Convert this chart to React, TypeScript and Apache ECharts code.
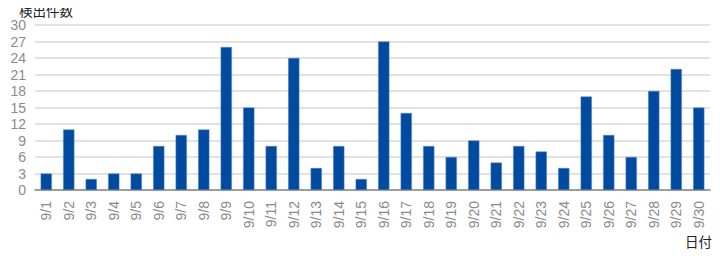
import React, { useEffect, useRef } from "react";
import * as echarts from "echarts";

const categories = [
  "9/1","9/2","9/3","9/4","9/5","9/6","9/7","9/8","9/9","9/10",
  "9/11","9/12","9/13","9/14","9/15","9/16","9/17","9/18","9/19","9/20",
  "9/21","9/22","9/23","9/24","9/25","9/26","9/27","9/28","9/29","9/30",
];
const counts = [
  3, 11, 2, 3, 3, 8, 10, 11, 26, 15,
  8, 24, 4, 8, 2, 27, 14, 8, 6, 9,
  5, 8, 7, 4, 17, 10, 6, 18, 22, 15,
];
const yAxisTitle = "検出件数";
const xAxisTitle = "日付";

const FONT = "'Liberation Sans', 'Noto Sans CJK JP', sans-serif";

export default function App() {
  const ref = useRef<HTMLDivElement>(null);
  useEffect(() => {
    if (!ref.current) return;
    const chart = echarts.init(ref.current, undefined, { renderer: "svg" });
    chart.setOption({
      animation: false,
      grid: { left: 35, right: 10, top: 25, bottom: 70, containLabel: false },
      graphic: [
        {
          type: "text",
          left: 19,
          top: 3,
          style: { text: yAxisTitle, fontSize: 13.5, fill: "#222", fontFamily: "'Noto Sans CJK JP', sans-serif" },
        },
        {
          type: "text",
          right: 8,
          top: 234,
          style: { text: xAxisTitle, fontSize: 13.5, fill: "#222", fontFamily: "'Noto Sans CJK JP', sans-serif" },
        },
      ],
      xAxis: {
        type: "category",
        data: categories,
        axisLine: { lineStyle: { color: "#888", width: 1.5 } },
        axisTick: { alignWithLabel: true, length: 5, lineStyle: { color: "#888" } },
        axisLabel: { rotate: 90, color: "#8a8a8a", fontSize: 14, margin: 11, fontFamily: FONT, interval: 0 },
      },
      yAxis: {
        type: "value",
        min: 0,
        max: 30,
        interval: 3,
        axisLine: { show: false },
        axisTick: { show: false },
        axisLabel: { color: "#8a8a8a", fontSize: 14, lineHeight: 14, margin: 9, fontFamily: FONT },
        splitLine: { lineStyle: { color: "#e2e2e2", width: 2 } },
      },
      series: [
        {
          type: "bar",
          data: counts,
          barWidth: "50%",
          itemStyle: { color: "#004a9f", borderColor: "#5f86c2", borderWidth: 0.5 },
        },
      ],
    });
    return () => chart.dispose();
  }, []);
  return <div ref={ref} style={{ width: 720, height: 260, margin: -8 }} />;
}
